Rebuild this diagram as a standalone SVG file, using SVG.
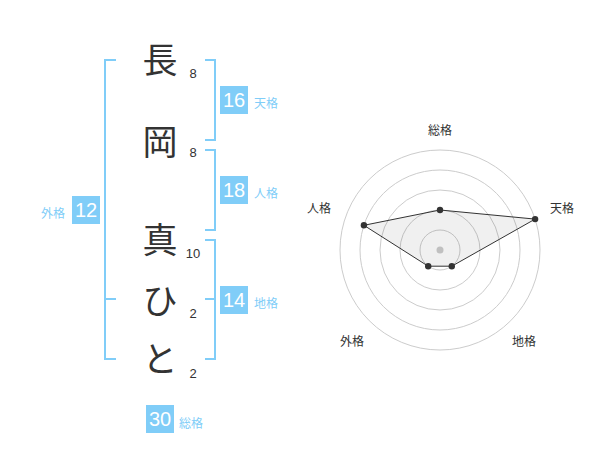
<svg xmlns="http://www.w3.org/2000/svg" width="600" height="470" viewBox="0 0 600 470">
<style>
.ch{font-family:"Noto Sans CJK JP","Noto Sans CJK SC",sans-serif;font-size:35px;fill:#333;text-anchor:middle}
.n{font-family:"Liberation Sans",Arial,sans-serif;font-size:13px;fill:#333;text-anchor:middle}
.br{fill:none;stroke:#80cdf8;stroke-width:2}
.box{fill:#80cdf8}
.bt{font-family:"Liberation Sans",Arial,sans-serif;font-size:20px;fill:#fff;text-anchor:middle}
.bl{font-family:"Noto Sans CJK JP",sans-serif;font-size:12px;fill:#80cdf8}
.ring{fill:none;stroke:#ccc;stroke-width:1}
.rl{font-family:"Noto Sans CJK JP",sans-serif;font-size:12px;fill:#333;text-anchor:middle}
.pt{fill:#333}
</style>
<rect width="600" height="470" fill="#fff"/>
<g id="chars">
<g id="c1"><text class="ch" x="160" y="73">長</text><text class="n" x="193" y="78">8</text></g>
<g id="c2"><text class="ch" x="160" y="155">岡</text><text class="n" x="193" y="157">8</text></g>
<g id="c3"><text class="ch" x="160" y="253">真</text><text class="n" x="193" y="258">10</text></g>
<g id="c4"><text class="ch" x="160" y="314">ひ</text><text class="n" x="193" y="318">2</text></g>
<g id="c5"><text class="ch" x="160" y="372">と</text><text class="n" x="193" y="378">2</text></g>
</g>
<g id="connectors">
<path class="br" d="M116,60 H105 V359 H116 M105,299 H116"/>
<path class="br" d="M205,60 H215 V140 H205"/>
<path class="br" d="M205,150 H215 V230 H205"/>
<path class="br" d="M205,240 H215 V359 H205 M205,299 H215"/>
</g>
<g id="tenkaku"><rect class="box" x="220" y="86" width="28" height="28"/><text class="bt" x="234" y="107">16</text><text class="bl" x="254" y="108">天格</text></g>
<g id="jinkaku"><rect class="box" x="220" y="176" width="28" height="28"/><text class="bt" x="234" y="197">18</text><text class="bl" x="254" y="198">人格</text></g>
<g id="chikaku"><rect class="box" x="220" y="286" width="28" height="28"/><text class="bt" x="234" y="307">14</text><text class="bl" x="254" y="308">地格</text></g>
<g id="gaikaku"><rect class="box" x="72" y="196" width="28" height="28"/><text class="bt" x="86" y="217">12</text><text class="bl" x="41" y="218">外格</text></g>
<g id="soukaku"><rect class="box" x="146" y="405" width="28" height="28"/><text class="bt" x="160" y="426">30</text><text class="bl" x="179" y="428">総格</text></g>
<g id="radar">
<circle class="ring" cx="440" cy="250" r="20"/>
<circle class="ring" cx="440" cy="250" r="40"/>
<circle class="ring" cx="440" cy="250" r="60"/>
<circle class="ring" cx="440" cy="250" r="80"/>
<circle class="ring" cx="440" cy="250" r="100"/>
<circle cx="440" cy="250" r="3.5" fill="#ccc"/>
<polygon points="440,210 535.1,219.1 451.8,266.2 428.2,266.2 363.9,225.3" fill="#000" fill-opacity="0.06" stroke="#333" stroke-width="1"/>
<circle class="pt" cx="440" cy="210" r="3.2"/>
<circle class="pt" cx="535.1" cy="219.1" r="3.2"/>
<circle class="pt" cx="451.8" cy="266.2" r="3.2"/>
<circle class="pt" cx="428.2" cy="266.2" r="3.2"/>
<circle class="pt" cx="363.9" cy="225.3" r="3.2"/>
<text class="rl" x="440" y="135">総格</text>
<text class="rl" x="562" y="213">天格</text>
<text class="rl" x="524" y="346">地格</text>
<text class="rl" x="352" y="346">外格</text>
<text class="rl" x="319" y="213">人格</text>
</g>
</svg>
